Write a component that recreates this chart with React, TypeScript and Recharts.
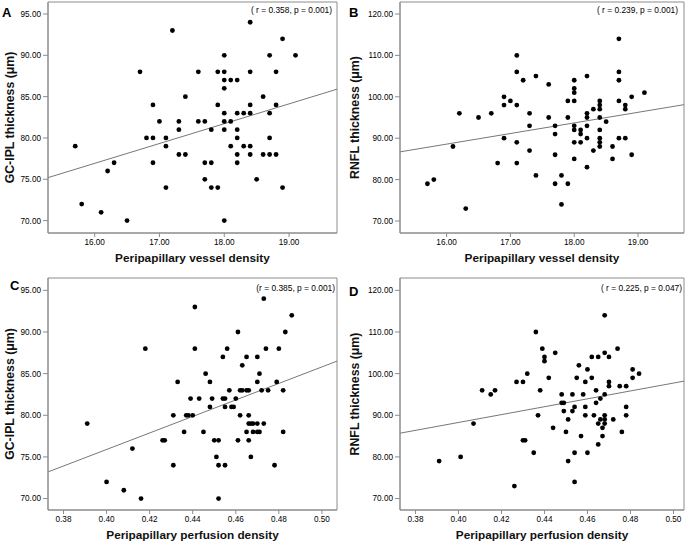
import React from "react"
import { ScatterChart, Scatter, XAxis, YAxis, ReferenceLine, ReferenceArea } from "recharts"

// A: vessel density vs GC-IPL
const aVessel = [15.7, 15.8, 16.1, 16.2, 16.3, 16.5, 16.7, 16.8, 16.9, 16.9, 16.9, 17.0, 17.1, 17.1, 17.1, 17.2, 17.3, 17.3, 17.3, 17.4, 17.4, 17.6, 17.6, 17.7, 17.7, 17.7, 17.8, 17.8, 17.8, 17.9, 17.9, 17.9, 18.0, 18.0, 18.0, 18.0, 18.0, 18.0, 18.0, 18.0, 18.1, 18.1, 18.1, 18.2, 18.2, 18.2, 18.2, 18.2, 18.2, 18.3, 18.3, 18.4, 18.4, 18.4, 18.4, 18.4, 18.4, 18.5, 18.6, 18.6, 18.7, 18.7, 18.7, 18.7, 18.8, 18.8, 18.8, 18.9, 18.9, 19.1]
const aGcipl = [79, 72, 71, 76, 77, 70, 88, 80, 84, 80, 77, 82, 80, 79, 74, 93, 82, 81, 78, 85, 78, 88, 82, 82, 77, 75, 81, 77, 74, 88, 84, 74, 90, 88, 87, 86, 83, 82, 81, 70, 87, 82, 79, 87, 83, 81, 80, 78, 77, 83, 79, 94, 88, 84, 83, 79, 78, 75, 85, 78, 90, 83, 80, 78, 88, 84, 78, 92, 74, 90]

// B: vessel density vs RNFL
const bVessel = [15.7, 15.8, 16.1, 16.2, 16.3, 16.5, 16.7, 16.8, 16.9, 16.9, 16.9, 17.0, 17.1, 17.1, 17.1, 17.1, 17.1, 17.2, 17.3, 17.3, 17.3, 17.4, 17.4, 17.6, 17.6, 17.7, 17.7, 17.7, 17.7, 17.8, 17.8, 17.9, 17.9, 17.9, 18.0, 18.0, 18.0, 18.0, 18.0, 18.0, 18.0, 18.0, 18.1, 18.1, 18.1, 18.2, 18.2, 18.2, 18.2, 18.2, 18.2, 18.3, 18.3, 18.4, 18.4, 18.4, 18.4, 18.4, 18.4, 18.4, 18.4, 18.5, 18.6, 18.6, 18.7, 18.7, 18.7, 18.7, 18.7, 18.8, 18.8, 18.8, 18.9, 18.9, 19.1]
const bRnfl = [79, 80, 88, 96, 73, 95, 96, 84, 100, 98, 90, 99, 110, 106, 98, 89, 84, 104, 96, 93, 87, 105, 81, 103, 95, 93, 91, 86, 79, 81, 74, 99, 95, 79, 104, 102, 101, 99, 93, 92, 89, 85, 92, 91, 89, 105, 96, 95, 93, 90, 83, 97, 87, 99, 98, 97, 95, 92, 90, 89, 88, 94, 88, 85, 114, 106, 104, 99, 90, 98, 97, 90, 100, 86, 101]

// C: perfusion density vs GC-IPL
const cPerfusion = [0.391, 0.400, 0.408, 0.412, 0.416, 0.418, 0.441, 0.473, 0.486, 0.461, 0.483, 0.441, 0.456, 0.474, 0.480, 0.454, 0.465, 0.470, 0.463, 0.446, 0.471, 0.433, 0.448, 0.470, 0.479, 0.457, 0.462, 0.463, 0.465, 0.466, 0.472, 0.475, 0.482, 0.439, 0.443, 0.449, 0.454, 0.455, 0.460, 0.448, 0.455, 0.458, 0.459, 0.431, 0.437, 0.438, 0.440, 0.462, 0.466, 0.466, 0.467, 0.468, 0.470, 0.473, 0.436, 0.445, 0.465, 0.468, 0.470, 0.471, 0.482, 0.426, 0.427, 0.450, 0.452, 0.461, 0.466, 0.451, 0.467, 0.431, 0.452, 0.455, 0.478, 0.452]
const cGcipl = [79, 72, 71, 76, 70, 88, 93, 94, 92, 90, 90, 88, 88, 88, 88, 87, 87, 87, 86, 85, 85, 84, 84, 84, 84, 83, 83, 83, 83, 83, 83, 83, 83, 82, 82, 82, 82, 82, 82, 81, 81, 81, 81, 80, 80, 80, 80, 80, 80, 79, 79, 79, 79, 79, 78, 78, 78, 78, 78, 78, 78, 77, 77, 77, 77, 77, 77, 75, 75, 74, 74, 74, 74, 70]

// D: perfusion density vs RNFL
const dPerfusion = [0.391, 0.401, 0.407, 0.468, 0.436, 0.439, 0.474, 0.445, 0.468, 0.440, 0.440, 0.462, 0.465, 0.470, 0.456, 0.460, 0.481, 0.484, 0.432, 0.442, 0.455, 0.462, 0.481, 0.427, 0.430, 0.459, 0.470, 0.470, 0.475, 0.478, 0.411, 0.417, 0.438, 0.464, 0.415, 0.448, 0.453, 0.458, 0.468, 0.466, 0.448, 0.449, 0.464, 0.454, 0.459, 0.478, 0.449, 0.453, 0.437, 0.459, 0.463, 0.468, 0.478, 0.451, 0.466, 0.468, 0.472, 0.465, 0.468, 0.467, 0.444, 0.450, 0.476, 0.457, 0.467, 0.430, 0.431, 0.465, 0.435, 0.454, 0.460, 0.451, 0.454, 0.426]
const dRnfl = [79, 80, 88, 114, 110, 106, 106, 105, 105, 104, 103, 104, 104, 104, 102, 101, 101, 100, 100, 99, 99, 99, 99, 98, 98, 98, 98, 97, 97, 97, 96, 96, 96, 96, 95, 95, 95, 95, 95, 94, 93, 93, 93, 92, 92, 92, 91, 91, 90, 90, 90, 90, 90, 89, 89, 89, 89, 88, 88, 87, 87, 86, 86, 85, 85, 84, 84, 83, 81, 81, 81, 79, 74, 73]

// fitted lines, read at the plot edges
const fitA = [{ x: 15.28, y: 75.2 }, { x: 19.74, y: 85.9 }]
const fitB = [{ x: 15.27, y: 86.7 }, { x: 19.72, y: 98.1 }]
const fitC = [{ x: 0.3728, y: 73.2 }, { x: 0.507, y: 86.5 }]
const fitD = [{ x: 0.3728, y: 85.7 }, { x: 0.5049, y: 98.2 }]

const vesselTicks = [16, 17, 18, 19]
const perfusionTicks = [0.38, 0.4, 0.42, 0.44, 0.46, 0.48, 0.5]
const gciplTicks = [70, 75, 80, 85, 90, 95]
const rnflTicks = [70, 80, 90, 100, 110, 120]

const FONT = "'Liberation Sans', Arial, sans-serif"
const GRAY = "#8c8c8c"

const toPoints = (xs: number[], ys: number[]) => xs.map((x, i) => ({ x, y: ys[i] }))

const Dot = (p: any) => <circle cx={p.cx} cy={p.cy} r={2.4} fill="#000" />

function YTitle({ viewBox, value, dx }: any) {
  const cx = dx
  const cy = viewBox.y + viewBox.height / 2
  return (
    <text x={cx} y={cy} transform={`rotate(-90 ${cx} ${cy})`} textAnchor="middle" dominantBaseline="central"
      fontFamily={FONT} fontWeight="bold" fontSize={12.3} fill="#111">
      {value}
    </text>
  )
}

interface PanelProps {
  left: number
  top: number
  width: number
  height: number
  marginTop: number
  marginRight: number
  yAxisWidth: number
  xAxisHeight: number
  data: { x: number; y: number }[]
  fit: { x: number; y: number }[]
  xDomain: [number, number]
  yDomain: [number, number]
  xTicks: number[]
  yTicks: number[]
  xTitle: string
  yTitle: string
  yTitleX: number
  letter: string
  letterX: number
  letterY: number
  stat: string
  statX: number
  statY: number
}

function Panel(p: PanelProps) {
  const tick = { fontSize: 8.2, fill: "#000", fontFamily: FONT }
  return (
    <div style={{ position: "absolute", left: p.left, top: p.top }}>
      <ScatterChart width={p.width} height={p.height} margin={{ top: p.marginTop, right: p.marginRight, bottom: 0, left: 0 }}>
        <XAxis type="number" dataKey="x" domain={p.xDomain} ticks={p.xTicks} allowDataOverflow interval={0}
          height={p.xAxisHeight} tickSize={4} tickMargin={2} tick={tick} tickFormatter={(v: number) => v.toFixed(2)}
          axisLine={{ stroke: GRAY }} tickLine={{ stroke: GRAY }}
          label={{ value: p.xTitle, position: "insideTop", offset: 21, fontFamily: FONT, fontWeight: "bold", fontSize: 11.8, fill: "#111" }} />
        <YAxis type="number" dataKey="y" domain={p.yDomain} ticks={p.yTicks} allowDataOverflow interval={0}
          width={p.yAxisWidth} tickSize={5} tickMargin={2} tick={tick} tickFormatter={(v: number) => v.toFixed(2)}
          axisLine={{ stroke: GRAY }} tickLine={{ stroke: GRAY }}
          label={<YTitle value={p.yTitle} dx={p.yTitleX} />} />
        <ReferenceArea x1={p.xDomain[0]} x2={p.xDomain[1]} y1={p.yDomain[0]} y2={p.yDomain[1]}
          fill="none" stroke={GRAY} strokeWidth={1} fillOpacity={0} ifOverflow="visible" />
        <ReferenceLine segment={p.fit} stroke="#777" strokeWidth={1} ifOverflow="hidden" />
        <Scatter data={p.data} shape={Dot} isAnimationActive={false} />
        <text x={p.letterX} y={p.letterY} fontFamily={FONT} fontWeight="bold" fontSize={13} fill="#000">{p.letter}</text>
        <text x={p.statX} y={p.statY} textAnchor="end" fontFamily={FONT} fontSize={8.4} fill="#000">{p.stat}</text>
      </ScatterChart>
    </div>
  )
}

export default function App() {
  return (
    <div style={{ position: "absolute", left: 0, top: 0, width: 685, height: 545, background: "#fff", overflow: "hidden" }}>
      <Panel left={0} top={0} width={342} height={272} marginTop={2} marginRight={5} yAxisWidth={48} xAxisHeight={39}
        data={toPoints(aVessel, aGcipl)} fit={fitA} xDomain={[15.28, 19.74]} yDomain={[68.5, 96.45]}
        xTicks={vesselTicks} yTicks={gciplTicks} xTitle="Peripapillary vessel density" yTitle="GC-IPL thickness (μm)" yTitleX={10}
        letter="A" letterX={2} letterY={17} stat="( r = 0.358, p = 0.001)" statX={332} statY={13} />
      <Panel left={342} top={0} width={343} height={272} marginTop={2} marginRight={1} yAxisWidth={58} xAxisHeight={39}
        data={toPoints(bVessel, bRnfl)} fit={fitB} xDomain={[15.27, 19.72]} yDomain={[67.1, 122.9]}
        xTicks={vesselTicks} yTicks={rnflTicks} xTitle="Peripapillary vessel density" yTitle="RNFL thickness (μm)" yTitleX={13}
        letter="B" letterX={7} letterY={17} stat="( r = 0.239, p = 0.001)" statX={336} statY={13} />
      <Panel left={0} top={272} width={342} height={273} marginTop={6} marginRight={5} yAxisWidth={48} xAxisHeight={35}
        data={toPoints(cPerfusion, cGcipl)} fit={fitC} xDomain={[0.3728, 0.507]} yDomain={[68.63, 96.48]}
        xTicks={perfusionTicks} yTicks={gciplTicks} xTitle="Peripapillary perfusion density" yTitle="GC-IPL thickness (μm)" yTitleX={10}
        letter="C" letterX={10} letterY={18} stat="(r = 0.385, p = 0.001)" statX={335} statY={19} />
      <Panel left={342} top={272} width={343} height={273} marginTop={6} marginRight={1} yAxisWidth={58} xAxisHeight={35}
        data={toPoints(dPerfusion, dRnfl)} fit={fitD} xDomain={[0.3728, 0.5049]} yDomain={[67.26, 122.96]}
        xTicks={perfusionTicks} yTicks={rnflTicks} xTitle="Peripapillary perfusion density" yTitle="RNFL thickness (μm)" yTitleX={13}
        letter="D" letterX={7} letterY={24} stat="( r = 0.225, p = 0.047)" statX={340} statY={19} />
    </div>
  )
}
